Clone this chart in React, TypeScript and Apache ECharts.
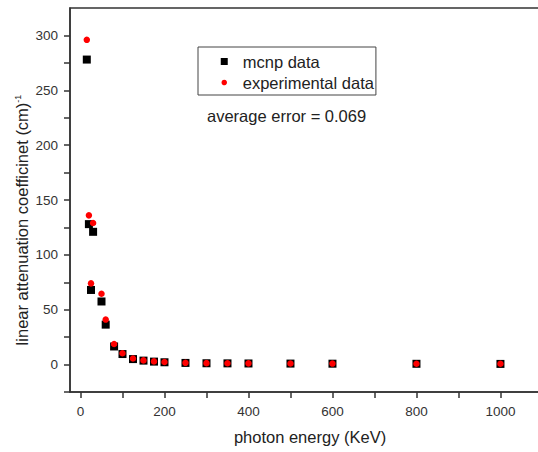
import React, { useEffect, useRef } from "react";
import * as echarts from "echarts";

const energies = [15, 20, 25, 30, 50, 60, 80, 100, 125, 150, 175, 200, 250, 300, 350, 400, 500, 600, 800, 1000];
const mcnpValues = [278, 128, 68, 121, 57.5, 36.4, 16.5, 9.6, 5.0, 3.6, 2.7, 2.1, 1.5, 1.2, 1.1, 1.0, 0.9, 0.8, 0.7, 0.6];
const experimentalValues = [296, 136, 74, 129, 64.5, 41, 18.8, 10.3, 5.5, 3.8, 2.9, 2.3, 1.6, 1.3, 1.2, 1.1, 1.0, 0.9, 0.8, 0.7];
const xTickValues = [0, 100, 200, 300, 400, 500, 600, 700, 800, 900, 1000, 1100];
const xLabelValues = [0, 200, 400, 600, 800, 1000];
const yTickValues = [-25, 0, 25, 50, 75, 100, 125, 150, 175, 200, 225, 250, 275, 300];
const yLabelValues = [0, 50, 100, 150, 200, 250, 300];

export default function App() {
  const ref = useRef<HTMLDivElement>(null);
  useEffect(() => {
    if (!ref.current) return;
    const chart = echarts.init(ref.current, undefined, { renderer: "svg" });
    const font = "'Liberation Sans', Arial, sans-serif";
    const axisColor = "#333";
    chart.setOption({
      animation: false,
      backgroundColor: "#fff",
      textStyle: { fontFamily: font },
      grid: {
        left: 70,
        top: 8,
        width: 480,
        bottom: 60,
        show: true,
        borderColor: axisColor,
        borderWidth: 1.5,
        outerBoundsMode: "none",
      },
      xAxis: {
        type: "value",
        min: -25,
        max: 1118,
        name: "photon energy (KeV)",
        nameLocation: "middle",
        nameGap: 36,
        nameTextStyle: { fontSize: 16.5, color: "#222", fontFamily: font },
        axisLine: { show: true, onZero: false, lineStyle: { color: axisColor, width: 1.5 } },
        axisTick: { show: true, length: 6, customValues: xTickValues, lineStyle: { color: axisColor, width: 1.5 } },
        axisLabel: {
          customValues: xLabelValues,
          margin: 12,
          fontSize: 13.5,
          color: "#333",
          fontFamily: font,
          formatter: (v: number) => String(v),
        },
        splitLine: { show: false },
      },
      yAxis: {
        type: "value",
        min: -25,
        max: 325,
        axisLine: { show: true, onZero: false, lineStyle: { color: axisColor, width: 1.5 } },
        axisTick: { show: true, length: 6, customValues: yTickValues, lineStyle: { color: axisColor, width: 1.5 } },
        axisLabel: {
          customValues: yLabelValues,
          margin: 12,
          fontSize: 13.5,
          color: "#333",
          fontFamily: font,
          formatter: (v: number) => String(v),
        },
        splitLine: { show: false },
      },
      legend: {
        orient: "vertical",
        left: 198,
        top: 47,
        data: [
          { name: "mcnp data" },
          { name: "experimental data", itemStyle: { borderColor: "#fff", borderWidth: 1.5 } },
        ],
        borderColor: "#444",
        borderWidth: 1,
        borderRadius: 0,
        padding: [6, 2, 4, 22],
        itemWidth: 7,
        itemHeight: 7,
        itemGap: 4,
        textStyle: { fontSize: 16.5, color: "#222", fontFamily: font, padding: [0, 0, 0, 10] },
      },
      graphic: [
        {
          type: "text",
          left: 207,
          top: 107,
          style: { text: "average error = 0.069", fontSize: 16.5, fill: "#222", fontFamily: font },
        },
        {
          type: "text",
          x: 22,
          y: 220,
          rotation: Math.PI / 2,
          style: {
            text: "{a|linear attenuation coefficinet (cm)}{s|-1}",
            align: "center",
            verticalAlign: "middle",
            fill: "#222",
            fontFamily: font,
            rich: {
              a: { fontSize: 16.5, fill: "#222", fontFamily: font },
              s: { fontSize: 9, fill: "#222", fontFamily: font, verticalAlign: "top", padding: [0, 0, 9, 0] },
            },
          },
        },
      ],
      series: [
        {
          name: "mcnp data",
          type: "scatter",
          symbol: "rect",
          symbolSize: 8,
          itemStyle: { color: "#000", opacity: 1 },
          data: energies.map((e, i) => [e, mcnpValues[i]]),
        },
        {
          name: "experimental data",
          type: "scatter",
          symbol: "circle",
          symbolSize: 6.5,
          itemStyle: { color: "#ff0000", opacity: 1 },
          data: energies.map((e, i) => [e, experimentalValues[i]]),
        },
      ],
    });
    return () => chart.dispose();
  }, []);
  return <div ref={ref} style={{ width: 538, height: 452, position: "absolute", left: 0, top: 0 }} />;
}
